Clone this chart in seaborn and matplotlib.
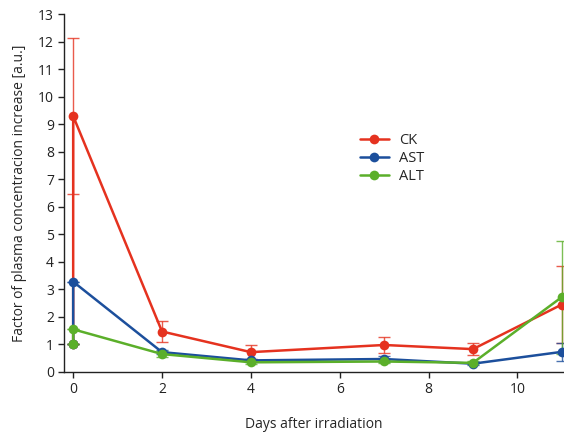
import matplotlib
matplotlib.use("Agg")
import matplotlib.pyplot as plt
import seaborn as sns
import pandas as pd

days = [0, 0, 2, 4, 7, 9, 11]
ck = [1.0, 9.3, 1.47, 0.72, 0.98, 0.83, 2.45]
ck_err = [0.0, 2.85, 0.38, 0.25, 0.3, 0.23, 1.4]
ast = [1.0, 3.28, 0.72, 0.42, 0.47, 0.3, 0.73]
ast_err = [0.0, 0.0, 0.08, 0.05, 0.1, 0.05, 0.33]
alt = [1.0, 1.55, 0.65, 0.35, 0.38, 0.33, 2.72]
alt_err = [0.0, 0.0, 0.12, 0.05, 0.05, 0.05, 2.05]
series_names = ["CK", "AST", "ALT"]
colors = ["#E5321F", "#1C4F9C", "#5BAF2A"]

sns.set_style("ticks")
plt.rcParams['font.family'] = ['Open Sans', 'DejaVu Sans']

rows = []
for name, vals in zip(series_names, [ck, ast, alt]):
    for i, (d, v) in enumerate(zip(days, vals)):
        rows.append({"order": i, "day": d, "value": v, "series": name})
df = pd.DataFrame(rows)

fig = plt.figure(figsize=(5.64, 4.33), dpi=100)
ax = fig.add_axes([0.114, 0.141, 0.886, 0.826])

for name, vals, errs, c in zip(series_names, [ck, ast, alt], [ck_err, ast_err, alt_err], colors):
    ax.errorbar(days, vals, yerr=errs, fmt="none", ecolor=c, elinewidth=1.0,
                capsize=4, capthick=1.0, alpha=0.8, zorder=2)

sns.lineplot(data=df, x="day", y="value", hue="series", palette=colors,
             hue_order=series_names, marker="o", markersize=7, markeredgewidth=0,
             linewidth=1.8, ax=ax, sort=False, estimator=None, units="series",
             zorder=3)

ax.set_xlim(-0.2, 11.05)
ax.set_ylim(0, 13)
ax.set_xticks([0, 2, 4, 6, 8, 10])
ax.set_yticks(range(0, 14))
ax.tick_params(labelsize=10, length=4, width=1, colors="#222222")
for s in ["top", "right"]:
    ax.spines[s].set_visible(False)
for s in ["left", "bottom"]:
    ax.spines[s].set_linewidth(1.0)
    ax.spines[s].set_color("#222222")
ax.set_xlabel("Days after irradiation", fontsize=10, labelpad=14)
ax.set_ylabel("Factor of plasma concentracion increase [a.u.]", fontsize=10, labelpad=8)

leg = ax.legend(title=None, frameon=False, fontsize=10.5, loc="upper left",
                bbox_to_anchor=(0.565, 0.705), handlelength=2.0, labelspacing=0.2,
                handletextpad=0.7)

fig.savefig("out.png", dpi=100)
